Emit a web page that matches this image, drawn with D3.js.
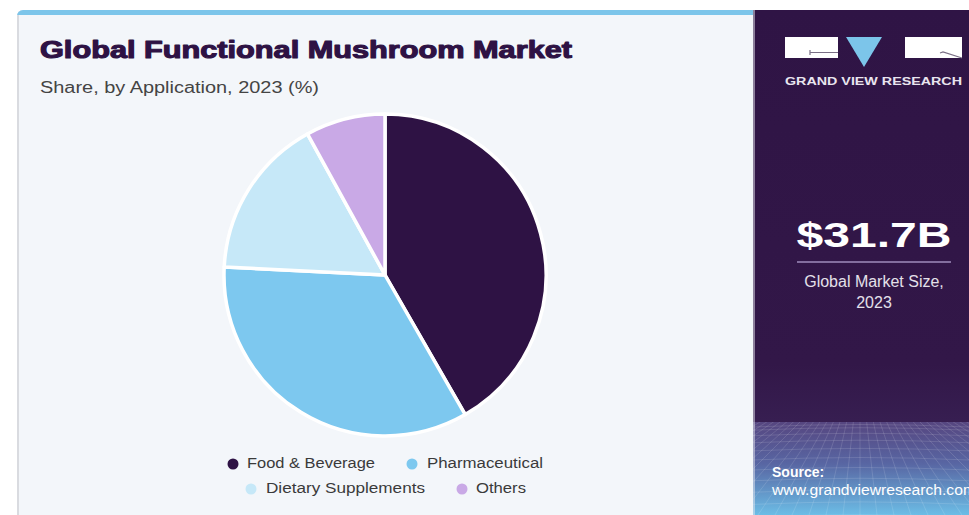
<!DOCTYPE html>
<html>
<head>
<meta charset="utf-8">
<script src="https://cdn.jsdelivr.net/npm/d3@7/dist/d3.min.js"></script>
<style>
html,body{margin:0;padding:0;background:#ffffff;}
svg{display:block;}
</style>
</head>
<body>
<svg id="chart" width="969" height="515"></svg>
<script>
// ---- data ----
const categories = ["Food & Beverage", "Pharmaceutical", "Dietary Supplements", "Others"];
const shares = [41.7, 34.1, 16.2, 8.0];
const colors = ["#2e1244", "#7dc8ef", "#c6e8f8", "#c9a9e6"];
const legendRows = [[0, 1], [2, 3]];
const titleText = "Global Functional Mushroom Market";
const subtitleText = "Share, by Application, 2023 (%)";
const marketValue = "$31.7B";
const marketLabel = ["Global Market Size,", "2023"];
const brandText = "GRAND VIEW RESEARCH";
const sourceLabel = "Source:";
const sourceUrl = "www.grandviewresearch.com";

const svg = d3.select("#chart");
const defs = svg.append("defs");

// ---- card (left) ----
const cardX = 17, cardY = 10, panelX = 753;
const cardClip = defs.append("clipPath").attr("id", "cardClip");
cardClip.append("rect").attr("x", cardX).attr("y", cardY).attr("width", panelX - cardX + 10).attr("height", 520).attr("rx", 6);
const card = svg.append("g").attr("clip-path", "url(#cardClip)");
card.append("rect").attr("x", cardX).attr("y", cardY).attr("width", panelX - cardX + 10).attr("height", 520).attr("fill", "#d9dbe0");
card.append("rect").attr("x", cardX + 2).attr("y", cardY).attr("width", panelX - cardX).attr("height", 520).attr("fill", "#f3f6fa");
card.append("rect").attr("x", cardX).attr("y", cardY).attr("width", panelX - cardX + 10).attr("height", 5).attr("fill", "#7cc5ea");

// title
svg.append("text").attr("x", 40).attr("y", 58)
  .attr("font-family", "Liberation Sans, Arial, sans-serif").attr("font-weight", 700)
  .attr("font-size", 23).attr("fill", "#2e1244")
  .attr("textLength", 532).attr("lengthAdjust", "spacingAndGlyphs")
  .style("stroke", "#2e1244").style("stroke-width", 1.1).style("stroke-linejoin", "round")
  .text(titleText);
svg.append("text").attr("x", 40).attr("y", 93)
  .attr("font-family", "Liberation Sans, Arial, sans-serif")
  .attr("font-size", 16).attr("fill", "#444444")
  .attr("textLength", 279).attr("lengthAdjust", "spacingAndGlyphs")
  .text(subtitleText);

// ---- pie ----
const cx = 385, cy = 275, R = 161;
const data = categories.map((c, i) => ({ name: c, value: shares[i], color: colors[i] }));
const pie = d3.pie().value(d => d.value).sort(null).startAngle(0).endAngle(2 * Math.PI);
const arc = d3.arc().innerRadius(0).outerRadius(R);
svg.append("g").attr("transform", `translate(${cx},${cy})`)
  .selectAll("path").data(pie(data)).join("path")
  .attr("d", arc).attr("fill", d => d.data.color)
  .attr("stroke", "#ffffff").attr("stroke-width", 3.5).attr("stroke-linejoin", "round");

// ---- legend ----
const legendPos = [
  { cx: 233, cy: 464, tx: 247, ty: 468 },
  { cx: 412, cy: 464, tx: 427, ty: 468 },
  { cx: 251, cy: 489, tx: 266, ty: 493 },
  { cx: 462, cy: 489, tx: 476, ty: 493 }
];
const legendW = [128, 116, 159, 50];
const lg = svg.append("g");
legendRows.flat().forEach((i) => {
  const p = legendPos[i];
  lg.append("circle").attr("cx", p.cx).attr("cy", p.cy).attr("r", 5.5).attr("fill", colors[i]);
  lg.append("text").attr("x", p.tx).attr("y", p.ty)
    .attr("font-family", "Liberation Sans, Arial, sans-serif").attr("font-size", 15.5)
    .attr("fill", "#3a3a3a")
    .attr("textLength", legendW[i]).attr("lengthAdjust", "spacingAndGlyphs")
    .text(categories[i]);
});

// ---- right panel ----
const pg = defs.append("linearGradient").attr("id", "panelGrad").attr("x1", 0).attr("y1", 0).attr("x2", 0).attr("y2", 1);
pg.append("stop").attr("offset", "0%").attr("stop-color", "#2f1445");
pg.append("stop").attr("offset", "70%").attr("stop-color", "#321748");
pg.append("stop").attr("offset", "100%").attr("stop-color", "#3f2a60");
svg.append("rect").attr("x", panelX).attr("y", cardY).attr("width", 969 - panelX).attr("height", 515 - cardY).attr("fill", "url(#panelGrad)");

const bg = defs.append("linearGradient").attr("id", "bandGrad").attr("x1", 0).attr("y1", 0).attr("x2", 0).attr("y2", 1);
bg.append("stop").attr("offset", "0%").attr("stop-color", "#564680");
bg.append("stop").attr("offset", "45%").attr("stop-color", "#5866a3");
bg.append("stop").attr("offset", "100%").attr("stop-color", "#6cbde6");
const bandY = 422;
svg.append("rect").attr("x", panelX).attr("y", bandY).attr("width", 969 - panelX).attr("height", 515 - bandY).attr("fill", "url(#bandGrad)");

// grid decoration
const gridClip = defs.append("clipPath").attr("id", "gridClip");
gridClip.append("rect").attr("x", panelX).attr("y", bandY).attr("width", 969 - panelX).attr("height", 515 - bandY);
const grid = svg.append("g").attr("clip-path", "url(#gridClip)").attr("stroke", "#ffffff").attr("stroke-opacity", 0.16).attr("stroke-width", 0.8).attr("fill", "none");
const vpX = 860, vpY = 380;
d3.range(-30, 31).forEach(k => {
  const bx = 860 + k * 22;
  grid.append("line").attr("x1", vpX + k * 2).attr("y1", vpY).attr("x2", bx).attr("y2", 560);
});
d3.range(0, 14).forEach(k => {
  const y = bandY + 3 + Math.pow(k, 1.45) * 3.2;
  grid.append("path").attr("d", `M${panelX},${y + 2} Q860,${y - 3} 969,${y + 2}`);
});
svg.append("rect").attr("x", panelX).attr("y", cardY).attr("width", 2).attr("height", 515 - cardY).attr("fill", "#e8e8f0").attr("opacity", 0.5);

// logo
const logo = svg.append("g");
logo.append("rect").attr("x", 785).attr("y", 37).attr("width", 53).attr("height", 21).attr("fill", "#ffffff");
logo.append("path").attr("d", "M810,50 L810,55 M810,52.5 L838,52.5").attr("stroke", "#7a6f86").attr("stroke-width", 1.2).attr("fill", "none");
logo.append("path").attr("d", "M846,37 L882,37 L864,67 Z").attr("fill", "#7cc5ea");
logo.append("rect").attr("x", 905).attr("y", 37).attr("width", 57).attr("height", 21).attr("fill", "#ffffff");
logo.append("path").attr("d", "M962,58 L943,52 L940,53").attr("stroke", "#7a6f86").attr("stroke-width", 1.2).attr("fill", "none");
svg.append("text").attr("x", 785).attr("y", 85)
  .attr("font-family", "Liberation Sans, Arial, sans-serif").attr("font-weight", 700)
  .attr("font-size", 11.5).attr("fill", "#e9e5ef")
  .attr("textLength", 177).attr("lengthAdjust", "spacingAndGlyphs")
  .text(brandText);

// market size
svg.append("text").attr("x", 874).attr("y", 247).attr("text-anchor", "middle")
  .attr("font-family", "Liberation Sans, Arial, sans-serif").attr("font-weight", 700)
  .attr("font-size", 35).attr("fill", "#ffffff")
  .attr("textLength", 155).attr("lengthAdjust", "spacingAndGlyphs")
  .text(marketValue);
svg.append("line").attr("x1", 797).attr("x2", 951).attr("y1", 262).attr("y2", 262)
  .attr("stroke", "#9f8cbb").attr("stroke-width", 1.5);
marketLabel.forEach((t, i) => {
  svg.append("text").attr("x", 874).attr("y", 287 + i * 21).attr("text-anchor", "middle")
    .attr("font-family", "Liberation Sans, Arial, sans-serif")
    .attr("font-size", 16).attr("fill", "#e4e0ea")
    .text(t);
});

// source
svg.append("text").attr("x", 772).attr("y", 477)
  .attr("font-family", "Liberation Sans, Arial, sans-serif").attr("font-weight", 700)
  .attr("font-size", 14).attr("fill", "#ffffff").text(sourceLabel);
svg.append("text").attr("x", 772).attr("y", 495)
  .attr("font-family", "Liberation Sans, Arial, sans-serif")
  .attr("font-size", 14).attr("fill", "#ffffff")
  .attr("textLength", 204).attr("lengthAdjust", "spacingAndGlyphs")
  .text(sourceUrl);
</script>
</body>
</html>
